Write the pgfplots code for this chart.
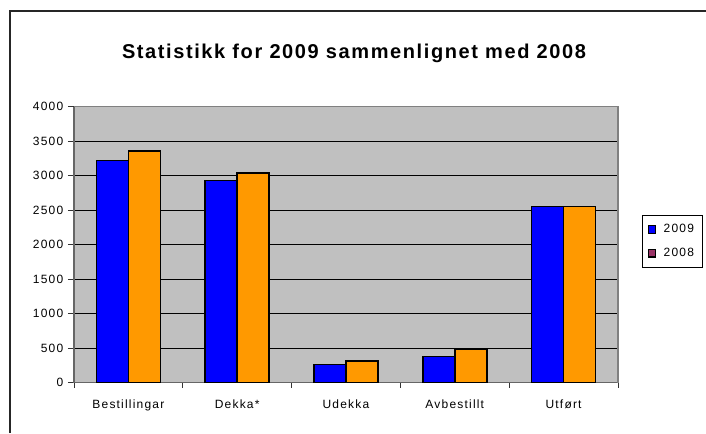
\documentclass[border=0pt]{standalone}
\usepackage{pgfplots}
\pgfplotsset{compat=1.18}
\usepackage{fontspec}
\setmainfont{Liberation Sans}
\definecolor{bgray}{RGB}{192,192,192}
\definecolor{xblue}{RGB}{0,0,255}
\definecolor{xorange}{RGB}{255,153,0}
\definecolor{xmaroon}{RGB}{153,51,102}
\newcommand{\tickfont}{\fontsize{9}{10.8}\selectfont\addfontfeatures{LetterSpace=10}}
\begin{document}
\begin{tikzpicture}[x=0.75pt,y=0.75pt]
\path[use as bounding box] (0,0) rectangle (706,433);
\draw[line width=1.5pt,black!85] (10,0) -- (10,422) -- (706,422);
\node[font=\fontsize{15}{18}\selectfont\bfseries\addfontfeatures{LetterSpace=8}] at (354,380) {Statistikk for 2009 sammenlignet med 2008};
\begin{axis}[
  at={(68,73)}, anchor=south west,
  scale only axis, width=408pt, height=207pt,
  xmin=-0.5, xmax=4.5, ymin=0, ymax=4000,
  ytick distance=500,
  xtick={0,1,2,3,4},
  xticklabels={Bestillingar,Dekka*,Udekka,Avbestillt,Utført},
  minor xtick={-0.5,0.5,1.5,2.5,3.5,4.5},
  major x tick style={draw=none},
  tick align=outside,
  major tick length=4.5pt,
  minor tick length=4pt,
  tick style={black!80, line width=0.6pt},
  xticklabel style={yshift=-5pt},
  ticklabel style={font=\tickfont},
  /pgf/number format/assume math mode=true,
  /pgf/number format/1000 sep={},
  ymajorgrids, grid style={black, line width=0.6pt},
  axis background/.style={fill=bgray},
  axis line style={black!60, line width=0.8pt},
  axis x line*=bottom,
  axis y line*=left,
  clip=false,
  ybar=0pt, bar width=24pt,
  legend style={at={(1.044,0.609)}, anchor=north west, draw=black, line width=0.6pt,
    font=\tickfont, row sep=6pt, inner xsep=4pt, inner ysep=5pt},
  legend cell align=left,
]
\draw[black!50, line width=0.8pt] (rel axis cs:1,0) -- (rel axis cs:1,1) -- (rel axis cs:0,1);
\addplot[fill=xblue, draw=black, line width=1.1pt,
  legend image code/.code={\draw[fill=xblue,draw=black,line width=0.8pt] (0cm,-0.1cm) rectangle (0.2cm,0.1cm); \path (0.32cm,0);}]
  coordinates {(0,3220) (1,2930) (2,265) (3,375) (4,2555)};
\addlegendentry{2009}
\addplot[fill=xorange, draw=black, line width=1.1pt,
  legend image code/.code={\draw[fill=xmaroon,draw=black,line width=0.8pt] (0cm,-0.1cm) rectangle (0.2cm,0.1cm); \path (0.32cm,0);}]
  coordinates {(0,3360) (1,3040) (2,315) (3,490) (4,2555)};
\addlegendentry{2008}
\end{axis}
\end{tikzpicture}
\end{document}
